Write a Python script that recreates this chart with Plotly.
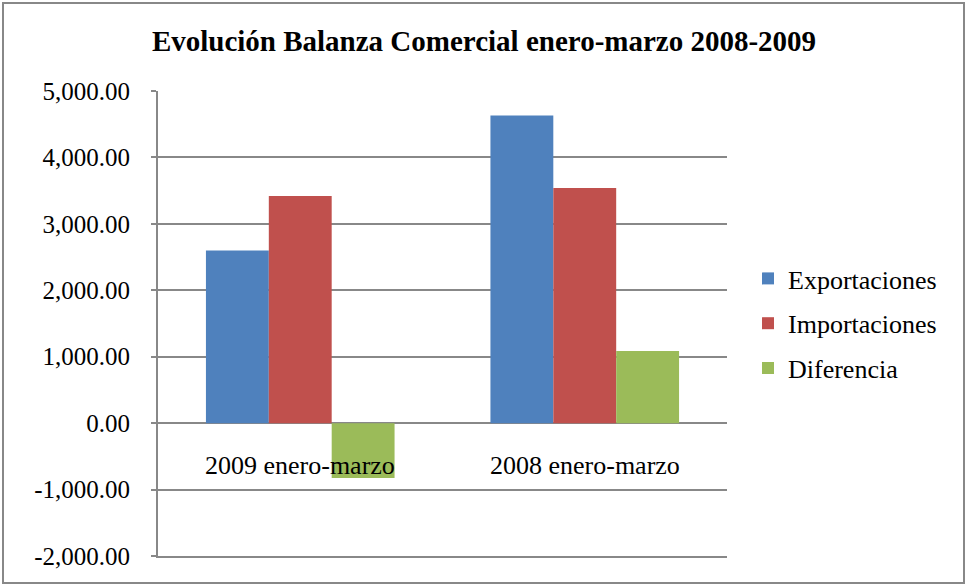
import plotly.graph_objects as go

# periods and series (millones)
periodos = ["2009 enero-marzo", "2008 enero-marzo"]
exportaciones = [2600, 4630]
importaciones = [3420, 3540]
diferencia = [-825, 1085]
ticks_y = [-2000, -1000, 0, 1000, 2000, 3000, 4000, 5000]

series = [
    ("Exportaciones", exportaciones, "#4F81BD"),
    ("Importaciones", importaciones, "#C0504D"),
    ("Diferencia", diferencia, "#9BBB59"),
]

font_fam = "Liberation Serif, Times New Roman, serif"
grey = "#888888"

fig = go.Figure()
for i, (name, vals, color) in enumerate(series):
    fig.add_trace(go.Bar(
        x=periodos, y=vals, name=name,
        marker=dict(color=color, line=dict(width=0)),
        legendgroup=f"g{i}",
    ))

# category labels sit just under the zero line, like Excel does
for p in periodos:
    fig.add_annotation(x=p, y=0, xref="x", yref="y", text=p,
                       showarrow=False, yanchor="top", yshift=-26,
                       font=dict(family=font_fam, size=26, color="black"))

# outer chart frame
W, H = 968, 586
ml, mr, mt, mb = 158, 241, 91, 30
pw, ph = W - ml - mr, H - mt - mb
fig.add_shape(type="rect", xref="paper", yref="paper",
              x0=(3 - ml) / pw, x1=(W - 4 - ml) / pw,
              y0=(H - mb - 583) / ph, y1=(H - mb - 3) / ph,
              line=dict(color=grey, width=2), layer="below")

fig.update_layout(
    width=W, height=H,
    margin=dict(l=ml, r=mr, t=mt, b=mb),
    paper_bgcolor="white", plot_bgcolor="white",
    barmode="group", bargap=0.337, bargroupgap=0,
    font=dict(family=font_fam, size=25, color="black"),
    title=dict(text="<b>Evolución Balanza Comercial enero-marzo 2008-2009</b>",
               x=0.5, xref="container", xanchor="center",
               y=1 - 41 / H, yanchor="middle",
               font=dict(family=font_fam, size=29, color="black")),
    legend=dict(x=(748 - ml) / pw, xanchor="left", y=0.5, yanchor="middle",
                traceorder="grouped", tracegroupgap=8,
                font=dict(family=font_fam, size=26)),
    showlegend=True,
)

fig.update_xaxes(showticklabels=False, showgrid=False,
                 showline=True, linecolor=grey, linewidth=2,
                 zeroline=False, ticks="")
fig.update_yaxes(range=[-2000, 5000], tickvals=ticks_y,
                 ticktext=[f"{v:,.2f}" for v in ticks_y],
                 showgrid=True, gridcolor=grey, gridwidth=2,
                 zeroline=True, zerolinecolor=grey, zerolinewidth=2,
                 showline=True, linecolor=grey, linewidth=2,
                 ticks="outside", ticklen=5, tickcolor=grey, tickwidth=2,
                 ticklabelstandoff=16)

# the page's default body margin would shift the chart by 8px
fig.write_html("out.html", config={"displayModeBar": False},
               post_script="document.body.style.margin='0';")
